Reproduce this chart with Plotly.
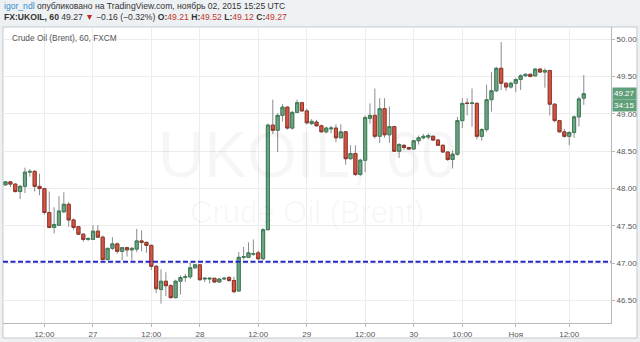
import plotly.graph_objects as go

# ---------------- data ----------------
bar_index = list(range(-18, 102))

open_ = [48.05, 48.09, 48.06, 47.96, 48.03, 48.22, 48.23, 48.03, 48.00, 47.68,
         47.48, 47.51, 47.69, 47.79, 47.58, 47.49, 47.39, 47.32, 47.32, 47.43,
         47.35, 47.05, 47.20, 47.26, 47.16, 47.21, 47.18, 47.19, 47.30, 47.28,
         47.24, 46.96, 46.65, 46.76, 46.70, 46.54, 46.76, 46.81, 46.82, 46.94,
         46.98, 46.79, 46.79, 46.80, 46.75, 46.79, 46.81, 46.77, 46.63, 47.08,
         47.08, 47.12, 47.14, 47.06, 47.45, 48.85, 48.78, 48.98, 49.09, 48.81,
         49.02, 49.15, 49.04, 48.87, 48.89, 48.84, 48.76, 48.80, 48.81, 48.68,
         48.76, 48.40, 48.47, 48.19, 48.38, 48.94, 48.98, 48.70, 49.07, 48.72,
         48.83, 48.50, 48.58, 48.55, 48.53, 48.64, 48.68, 48.69, 48.70, 48.65,
         48.58, 48.49, 48.39, 48.46, 48.91, 49.145, 49.14, 49.14, 48.70, 48.79,
         49.19, 49.31, 49.61, 49.41, 49.36, 49.41, 49.46, 49.51, 49.53, 49.51,
         49.60, 49.56, 49.58, 49.13, 48.91, 48.76, 48.70, 48.75, 48.96, 49.21]

high = [48.10, 48.10, 48.07, 48.05, 48.28, 48.26, 48.25, 48.20, 48.01, 47.96,
        47.75, 47.90, 47.95, 47.82, 47.60, 47.50, 47.40, 47.35, 47.51, 47.51,
        47.37, 47.21, 47.35, 47.28, 47.22, 47.22, 47.22, 47.46, 47.44, 47.29,
        47.25, 46.98, 46.92, 46.88, 46.72, 46.78, 46.84, 46.86, 47.01, 46.99,
        46.99, 46.81, 46.81, 46.80, 46.80, 46.81, 46.83, 46.82, 47.15, 47.22,
        47.28, 47.32, 47.17, 47.47, 48.87, 49.19, 49.01, 49.13, 49.10, 49.04,
        49.19, 49.16, 49.07, 48.93, 48.92, 48.86, 48.83, 48.84, 48.86, 48.86,
        48.77, 48.58, 48.58, 48.40, 48.98, 49.14, 49.34, 49.21, 49.21, 49.10,
        48.84, 48.61, 48.59, 48.56, 48.65, 48.71, 48.73, 48.74, 48.71, 48.66,
        48.59, 48.50, 48.51, 48.96, 49.21, 49.21, 49.34, 49.16, 48.81, 49.39,
        49.56, 49.63, 49.96, 49.42, 49.43, 49.48, 49.53, 49.54, 49.54, 49.61,
        49.61, 49.61, 49.59, 49.14, 48.92, 48.80, 48.77, 48.98, 49.23, 49.52]

low = [48.04, 48.02, 47.95, 47.86, 47.94, 48.16, 47.96, 47.91, 47.65, 47.47,
       47.40, 47.50, 47.67, 47.49, 47.45, 47.38, 47.29, 47.30, 47.32, 47.34,
       47.04, 47.04, 47.18, 47.13, 47.04, 47.09, 47.04, 47.15, 47.16, 47.14,
       46.91, 46.60, 46.46, 46.56, 46.53, 46.53, 46.58, 46.75, 46.79, 46.93,
       46.77, 46.75, 46.73, 46.74, 46.74, 46.78, 46.75, 46.60, 46.62, 47.05,
       47.07, 47.10, 47.04, 47.04, 47.44, 48.73, 48.49, 48.90, 48.79, 48.79,
       49.01, 49.03, 48.86, 48.85, 48.83, 48.75, 48.74, 48.74, 48.62, 48.67,
       48.32, 48.39, 48.17, 48.17, 48.22, 48.87, 48.67, 48.61, 48.68, 48.61,
       48.49, 48.41, 48.52, 48.52, 48.52, 48.59, 48.66, 48.66, 48.64, 48.57,
       48.48, 48.37, 48.27, 48.44, 48.81, 48.98, 48.83, 48.66, 48.64, 48.76,
       49.03, 49.29, 49.32, 49.31, 49.34, 49.29, 49.32, 49.50, 49.49, 49.50,
       49.55, 49.35, 48.98, 48.89, 48.75, 48.68, 48.58, 48.68, 48.83, 49.12]

close = [48.09, 48.06, 47.96, 48.03, 48.22, 48.23, 48.03, 48.00, 47.68, 47.48,
         47.52, 47.70, 47.79, 47.58, 47.48, 47.39, 47.32, 47.33, 47.43, 47.35,
         47.05, 47.20, 47.26, 47.16, 47.21, 47.18, 47.20, 47.30, 47.28, 47.24,
         46.96, 46.66, 46.76, 46.70, 46.54, 46.76, 46.81, 46.82, 46.94, 46.98,
         46.78, 46.80, 46.80, 46.75, 46.79, 46.80, 46.77, 46.62, 47.08, 47.09,
         47.14, 47.13, 47.06, 47.45, 48.85, 48.78, 48.98, 49.09, 48.81, 49.02,
         49.15, 49.04, 48.88, 48.90, 48.84, 48.76, 48.81, 48.81, 48.68, 48.76,
         48.40, 48.47, 48.19, 48.38, 48.95, 48.98, 48.70, 49.07, 48.72, 48.83,
         48.50, 48.59, 48.55, 48.53, 48.64, 48.68, 48.70, 48.71, 48.65, 48.58,
         48.49, 48.39, 48.46, 48.91, 49.14, 49.14, 49.145, 48.70, 48.79, 49.19,
         49.31, 49.61, 49.41, 49.36, 49.41, 49.46, 49.51, 49.53, 49.50, 49.60,
         49.56, 49.58, 49.13, 48.91, 48.76, 48.70, 48.75, 48.96, 49.20, 49.27]

tick_index = [-10, 0, 12, 22, 34, 44, 56, 66, 76, 87, 98]
tick_text = ["12:00", "27", "12:00", "28", "12:00", "29", "12:00", "30", "10:00", "Ноя", "12:00"]
price_ticks = [46.5, 47.0, 47.5, 48.0, 48.5, 49.0, 49.5, 50.0]
price_tick_text = ["%.2f" % v for v in price_ticks]
hline_price = 47.02
last_price = 49.27
countdown = "34:15"

# ---------------- styles ----------------
WICK = "#8c8c8e"
UP_FILL, UP_LINE = "#6ba583", "#3f7d57"
DN_FILL, DN_LINE = "#d75442", "#93362a"
GRID = "#ededed"
AXIS = "#b8b8b8"
TXT = "#555555"
FONT = "Liberation Sans, Arial, sans-serif"

body_hi = [max(o, c) for o, c in zip(open_, close)]
body_lo = [min(o, c) for o, c in zip(open_, close)]

fig = go.Figure()
fig.add_trace(go.Candlestick(
    x=bar_index, open=open_, high=high, low=low, close=close,
    increasing=dict(line=dict(color=WICK, width=1), fillcolor="rgba(0,0,0,0)"),
    decreasing=dict(line=dict(color=WICK, width=1), fillcolor="rgba(0,0,0,0)"),
    whiskerwidth=0, showlegend=False, hoverinfo="skip"))
fig.add_trace(go.Candlestick(
    x=bar_index, open=open_, high=body_hi, low=body_lo, close=close,
    increasing=dict(line=dict(color=UP_LINE, width=1), fillcolor=UP_FILL),
    decreasing=dict(line=dict(color=DN_LINE, width=1), fillcolor=DN_FILL),
    whiskerwidth=0, showlegend=False))

L, R, T, B = 3, 29, 27, 19
W, H = 640, 342
pw, ph = W - L - R, H - T - B


def px(xp):
    return (xp - L) / pw


def py(yp):
    return (H - B - yp) / ph


shapes = [
    # header band background handled by paper bg; white chart panel
    dict(type="rect", xref="paper", yref="paper", x0=px(3), x1=px(637), y0=py(338), y1=py(27),
         fillcolor="white", line=dict(color="#c4c7cb", width=1), layer="below"),
    dict(type="line", xref="paper", yref="y", x0=0, x1=1, y0=hline_price, y1=hline_price,
         line=dict(color="#2626c8", width=2, dash="5px,2.5px")),
]

annotations = [
    dict(xref="paper", yref="paper", x=px(2), y=py(6), xanchor="left", yanchor="middle",
         showarrow=False, font=dict(family=FONT, size=8.6, color="#333333"),
         text='<span style="color:#2e8ed0">igor_ndl</span> опубликовано на TradingView.com, ноябрь 02, 2015 15:25 UTC'),
    dict(xref="paper", yref="paper", x=px(2), y=py(17), xanchor="left", yanchor="middle",
         showarrow=False, font=dict(family=FONT, size=8.6, color="#333333"),
         text='<b>FX:UKOIL, 60</b> 49.27 <span style="color:#c0271c">▼</span> −0.16 (−0.32%) '
              '<b>O:</b><span style="color:#c0392b">49.21</span> '
              '<b>H:</b><span style="color:#c0392b">49.52</span> '
              '<b>L:</b><span style="color:#c0392b">49.12</span> '
              '<b>C:</b><span style="color:#c0392b">49.27</span>'),
    dict(xref="paper", yref="paper", x=px(10), y=py(38), xanchor="left", yanchor="middle",
         showarrow=False, font=dict(family=FONT, size=8.3, color="#555555"),
         text="Crude Oil (Brent), 60, FXCM"),
    dict(xref="paper", yref="paper", x=0.5, y=py(155), xanchor="center", yanchor="middle",
         showarrow=False, font=dict(family=FONT, size=64, color="rgba(0,0,0,0.035)"),
         text="UKOIL, 60"),
    dict(xref="paper", yref="paper", x=0.5, y=py(212), xanchor="center", yanchor="middle",
         showarrow=False, font=dict(family=FONT, size=31, color="rgba(0,0,0,0.035)"),
         text="Crude Oil (Brent)"),
    dict(xref="paper", yref="y", x=1, y=last_price, xanchor="left", yanchor="middle", xshift=1,
         showarrow=False, bgcolor="#5f9f7a", borderpad=1,
         font=dict(family=FONT, size=8, color="white"), text="%.2f" % last_price),
    dict(xref="paper", yref="y", x=1, y=last_price, xanchor="left", yanchor="middle", xshift=1,
         yshift=-12, showarrow=False, bgcolor="#5f9f7a", borderpad=1,
         font=dict(family=FONT, size=8, color="white"), text=countdown),
]

fig.update_layout(
    width=W, height=H, autosize=False,
    margin=dict(l=L, r=R, t=T, b=B, pad=0),
    paper_bgcolor="#eef1f4", plot_bgcolor="white",
    boxgap=0.36, boxgroupgap=0,
    shapes=shapes, annotations=annotations,
    xaxis=dict(range=[-18.52, 106.6], tickmode="array", tickvals=tick_index, ticktext=tick_text,
               showgrid=True, gridcolor=GRID, gridwidth=1, zeroline=False,
               showline=True, linecolor=AXIS, linewidth=1, ticks="outside", ticklen=3,
               tickcolor=AXIS, tickfont=dict(family=FONT, size=8, color=TXT),
               rangeslider=dict(visible=False), fixedrange=True),
    yaxis=dict(side="right", range=[46.201, 50.163], tickmode="array", tickvals=price_ticks,
               ticktext=price_tick_text, showgrid=True, gridcolor=GRID, gridwidth=1,
               zeroline=False, showline=True, linecolor=AXIS, linewidth=1,
               ticks="outside", ticklen=3, tickcolor=AXIS,
               tickfont=dict(family=FONT, size=8, color=TXT), fixedrange=True),
    showlegend=False,
)

fig.write_html("out.html")
